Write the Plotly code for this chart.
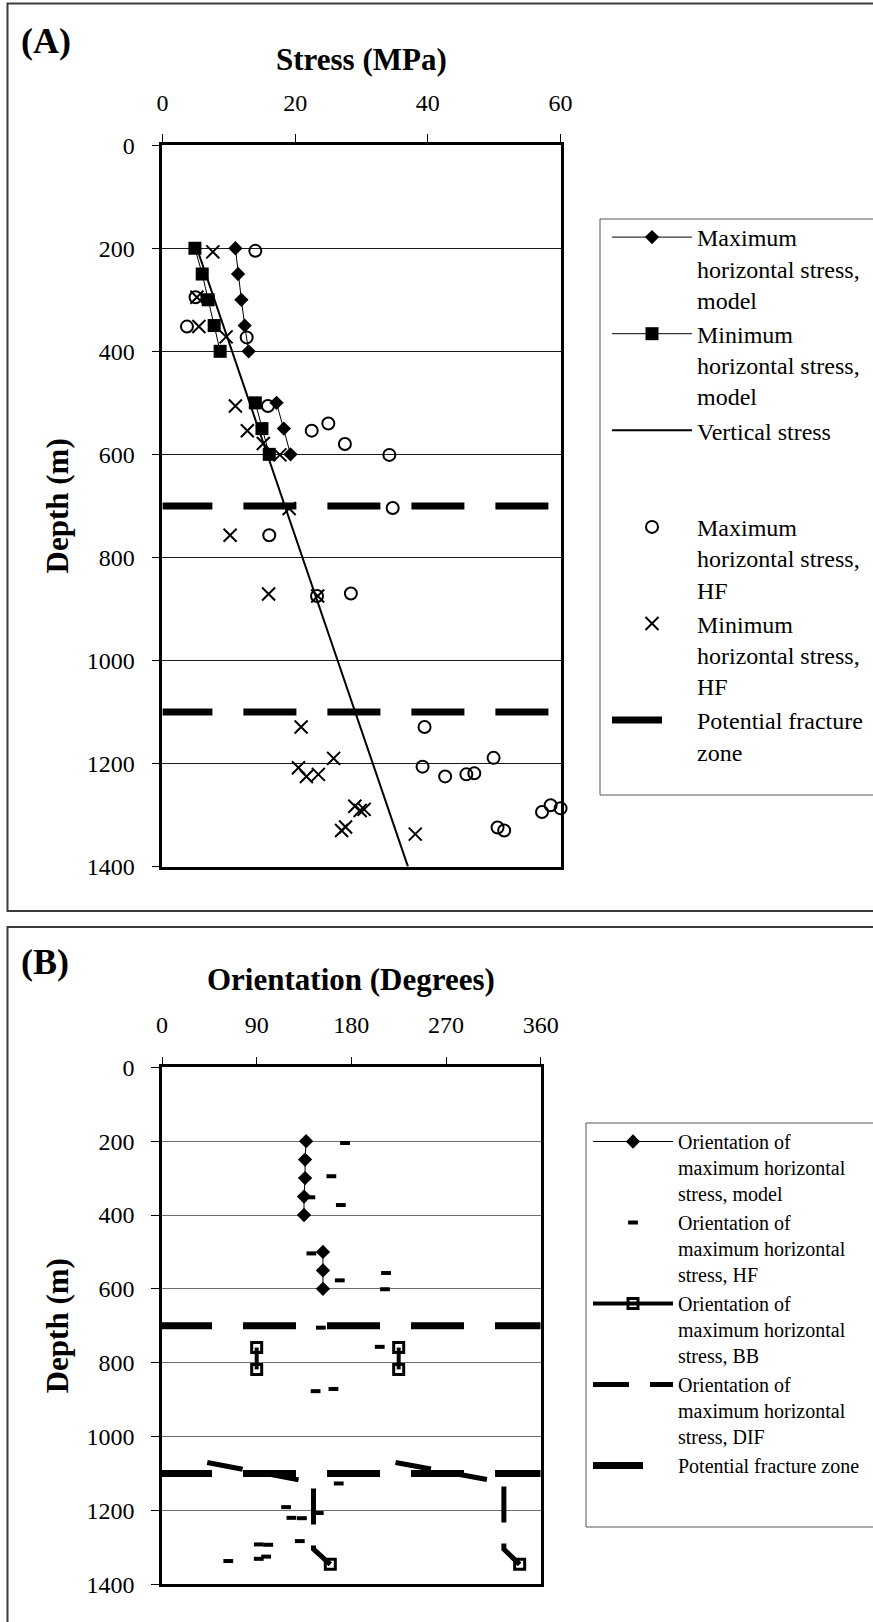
import plotly.graph_objects as go

W, H = 873, 1622
FONT = "Liberation Serif, Times New Roman, serif"

# ---------------- Panel A: stress profiles ----------------
model_depth = [200, 250, 300, 350, 400, None, 500, 550, 600]
shmax_model = [11.0, 11.4, 11.9, 12.4, 13.0, None, 17.2, 18.3, 19.3]
shmin_model = [4.9, 6.0, 6.9, 7.8, 8.7, None, 14.0, 15.0, 16.1]

sv_depth = [200, 1400]
sv_stress = [5.2, 37.0]

shmax_hf_depth = [205, 295, 352, 373, 506, 554, 540, 580, 601, 704, 757, 870, 875,
                  1129, 1206, 1225, 1221, 1219, 1189, 1294, 1281, 1287, 1324, 1330]
shmax_hf = [14.0, 5.0, 3.7, 12.7, 15.9, 22.5, 25.0, 27.5, 34.2, 34.7, 16.1, 28.4, 23.3,
            39.5, 39.2, 42.6, 45.8, 47.0, 49.9, 57.2, 58.5, 60.0, 50.5, 51.5]

shmin_hf_depth = [207, 295, 352, 372, 506, 554, 579, 601, 705, 757, 871, 875,
                  1129, 1208, 1225, 1221, 1190, 1283, 1291, 1289, 1330, 1323, 1337]
shmin_hf = [7.6, 5.2, 5.5, 9.6, 11.0, 12.8, 15.2, 17.7, 19.1, 10.2, 16.0, 23.4,
            20.9, 20.5, 21.7, 23.5, 25.8, 29.0, 29.8, 30.4, 27.0, 27.6, 38.1]

fz_depth = [700, 700, None, 1100, 1100]
fz_stress = [0, 60, None, 0, 60]

# ---------------- Panel B: orientations ----------------
orient_model = [137, 136, 136, 135, 135, None, 153, 153, 153]

hf_depth = [205, 295, 352, 373, 504, 557, 577, 601, 705, 757, 877, 871, 1127,
            1191, 1220, 1221, 1207, 1283, 1292, 1293, 1331, 1325, 1337]
hf_orient = [174, 161, 141, 170, 142, 213, 169, 212, 151, 207, 146, 163, 168,
             118, 123, 133, 149, 131, 92, 101, 92, 99, 63]

bb_depth = [759, 818, None, 759, 818, None, 1346, None, 1346]
bb_orient = [90, 90, None, 225, 225, None, 160, None, 340]

dif_depth = [1070, 1125, 1305, 1346, None, 1070, 1125, 1305, 1346]
dif_orient = [43, 144, 144, 160, None, 222, 325, 325, 340]

fz_orient = [0, 360, None, 0, 360]

# pixel geometry of the two plot areas
A_X = (162.4, 560.6)
A_Y = (145.2, 866.6)
B_X = (162.0, 540.7)
B_Y = (1067.3, 1584.3)


def px(x):
    return x / W


def py(y):
    return 1 - y / H


fig = go.Figure()

# Panel A traces
fig.add_trace(go.Scatter(
    x=shmax_model, y=model_depth, mode="lines+markers",
    name="Maximum<br>horizontal stress,<br>model",
    line=dict(color="black", width=1),
    marker=dict(symbol="diamond", size=11, color="black"),
    xaxis="x", yaxis="y", legend="legend", cliponaxis=False))
fig.add_trace(go.Scatter(
    x=shmin_model, y=model_depth, mode="lines+markers",
    name="Minimum<br>horizontal stress,<br>model",
    line=dict(color="black", width=1),
    marker=dict(symbol="square", size=13, color="black"),
    xaxis="x", yaxis="y", legend="legend", cliponaxis=False))
fig.add_trace(go.Scatter(
    x=sv_stress, y=sv_depth, mode="lines",
    name="Vertical stress<br>\u00a0<br>\u00a0",
    line=dict(color="black", width=2),
    xaxis="x", yaxis="y", legend="legend"))
fig.add_trace(go.Scatter(
    x=shmax_hf, y=shmax_hf_depth, mode="markers",
    name="Maximum<br>horizontal stress,<br>HF",
    marker=dict(symbol="circle-open", size=12, color="black",
                line=dict(width=2, color="black")),
    xaxis="x", yaxis="y", legend="legend", cliponaxis=False))
fig.add_trace(go.Scatter(
    x=shmin_hf, y=shmin_hf_depth, mode="markers",
    name="Minimum<br>horizontal stress,<br>HF",
    marker=dict(symbol="x-thin-open", size=13, color="black",
                line=dict(width=2, color="black")),
    xaxis="x", yaxis="y", legend="legend", cliponaxis=False))
FZ_DASH = "50px,31px,53px,31px,53px,31px,53px,31px,53px,200px"
fig.add_trace(go.Scatter(
    x=fz_stress, y=fz_depth, mode="lines",
    name="Potential fracture<br>zone<br>\u00a0",
    line=dict(color="black", width=7, dash=FZ_DASH),
    xaxis="x", yaxis="y", legend="legend"))

# Panel B traces
fig.add_trace(go.Scatter(
    x=orient_model, y=model_depth, mode="lines+markers",
    name="Orientation of<br>maximum horizontal<br>stress, model",
    line=dict(color="black", width=1),
    marker=dict(symbol="diamond", size=11, color="black"),
    xaxis="x2", yaxis="y2", legend="legend2", cliponaxis=False))
fig.add_trace(go.Scatter(
    x=hf_orient, y=hf_depth, mode="markers",
    name="Orientation of<br>maximum horizontal<br>stress, HF",
    marker=dict(symbol="line-ew", size=7, color="black",
                line=dict(width=4, color="black")),
    xaxis="x2", yaxis="y2", legend="legend2", cliponaxis=False))
fig.add_trace(go.Scatter(
    x=bb_orient, y=bb_depth, mode="lines+markers",
    name="Orientation of<br>maximum horizontal<br>stress, BB",
    line=dict(color="black", width=4),
    marker=dict(symbol="square-open", size=10, color="black",
                line=dict(width=3, color="black")),
    xaxis="x2", yaxis="y2", legend="legend2", cliponaxis=False))
fig.add_trace(go.Scatter(
    x=dif_orient, y=dif_depth, mode="lines",
    name="Orientation of<br>maximum horizontal<br>stress, DIF",
    line=dict(color="black", width=5, dash="36px,21px"),
    xaxis="x2", yaxis="y2", legend="legend2"))
fig.add_trace(go.Scatter(
    x=fz_orient, y=fz_depth, mode="lines",
    name="Potential fracture zone",
    line=dict(color="black", width=7, dash=FZ_DASH),
    xaxis="x2", yaxis="y2", legend="legend2"))

tick_font = dict(family=FONT, size=24, color="black")
common_x = dict(side="top", ticks="outside", ticklen=8, tickwidth=1, tickcolor="black",
                showline=True, linewidth=2.5, linecolor="black", mirror=True,
                showgrid=False, zeroline=False, tickfont=tick_font,
                ticklabelstandoff=14, fixedrange=True)
common_y = dict(ticks="outside", ticklen=8, tickwidth=1, tickcolor="black",
                showline=True, linewidth=2.5, linecolor="black", mirror=True,
                showgrid=True, gridwidth=1, zeroline=False, tickfont=tick_font,
                ticklabelstandoff=12, range=[1400, 0], tickmode="linear",
                tick0=0, dtick=200, fixedrange=True)

fig.update_layout(
    width=W, height=H,
    margin=dict(l=0, r=0, t=0, b=0, autoexpand=False),
    paper_bgcolor="white", plot_bgcolor="white",
    font=dict(family=FONT, color="black"),
    xaxis=dict(common_x, domain=[px(A_X[0]), px(A_X[1])], range=[0, 60],
               tickmode="array", tickvals=[0, 20, 40, 60], anchor="y"),
    yaxis=dict(common_y, domain=[py(A_Y[1]), py(A_Y[0])], anchor="x",
               gridcolor="#1a1a1a"),
    xaxis2=dict(common_x, domain=[px(B_X[0]), px(B_X[1])], range=[0, 360],
                tickmode="array", tickvals=[0, 90, 180, 270, 360], anchor="y2"),
    yaxis2=dict(common_y, domain=[py(B_Y[1]), py(B_Y[0])], anchor="x2",
                gridcolor="#6e6e6e"),
    legend=dict(x=px(607), y=py(215), xanchor="left", yanchor="top",
                font=dict(family=FONT, size=24, color="black"),
                bgcolor="rgba(0,0,0,0)", borderwidth=0, valign="top",
                itemwidth=80, tracegroupgap=0, itemclick=False, itemdoubleclick=False),
    legend2=dict(x=px(588), y=py(1122), xanchor="left", yanchor="top",
                 font=dict(family=FONT, size=20, color="black"),
                 bgcolor="rgba(0,0,0,0)", borderwidth=0, valign="top",
                 itemwidth=80, tracegroupgap=0, itemclick=False, itemdoubleclick=False),
    showlegend=True,
)

# panel frames and legend boxes
frame = dict(type="rect", xref="paper", yref="paper", layer="below",
             fillcolor="rgba(0,0,0,0)")
fig.add_shape(frame, x0=px(7.5), x1=1.02, y0=py(911), y1=py(3.5),
              line=dict(color="#3c3c3c", width=2))
fig.add_shape(frame, x0=px(7.5), x1=1.02, y0=-0.02, y1=py(927),
              line=dict(color="#3c3c3c", width=2))
fig.add_shape(frame, x0=px(600), x1=1.02, y0=py(795), y1=py(219),
              line=dict(color="#555555", width=1))
fig.add_shape(frame, x0=px(586), x1=1.02, y0=py(1527), y1=py(1123),
              line=dict(color="#555555", width=1))

title_font = dict(family=FONT, size=31, color="black")
ann = dict(xref="paper", yref="paper", showarrow=False)
fig.add_annotation(ann, text="<b>(A)</b>", x=px(19), y=py(41.5), xanchor="left",
                   yanchor="middle", font=dict(family=FONT, size=36, color="black"))
fig.add_annotation(ann, text="<b>(B)</b>", x=px(19), y=py(961.5), xanchor="left",
                   yanchor="middle", font=dict(family=FONT, size=36, color="black"))
fig.add_annotation(ann, text="<b>Stress (MPa)</b>", x=px(sum(A_X) / 2), y=py(59),
                   xanchor="center", yanchor="middle", font=title_font)
fig.add_annotation(ann, text="<b>Orientation (Degrees)</b>", x=px(sum(B_X) / 2),
                   y=py(979), xanchor="center", yanchor="middle", font=title_font)
fig.add_annotation(ann, text="<b>Depth (m)</b>", x=px(57.5), y=py(sum(A_Y) / 2),
                   xanchor="center", yanchor="middle", textangle=-90, font=title_font)
fig.add_annotation(ann, text="<b>Depth (m)</b>", x=px(57.5), y=py(sum(B_Y) / 2),
                   xanchor="center", yanchor="middle", textangle=-90, font=title_font)

fig.write_html("out.html")
